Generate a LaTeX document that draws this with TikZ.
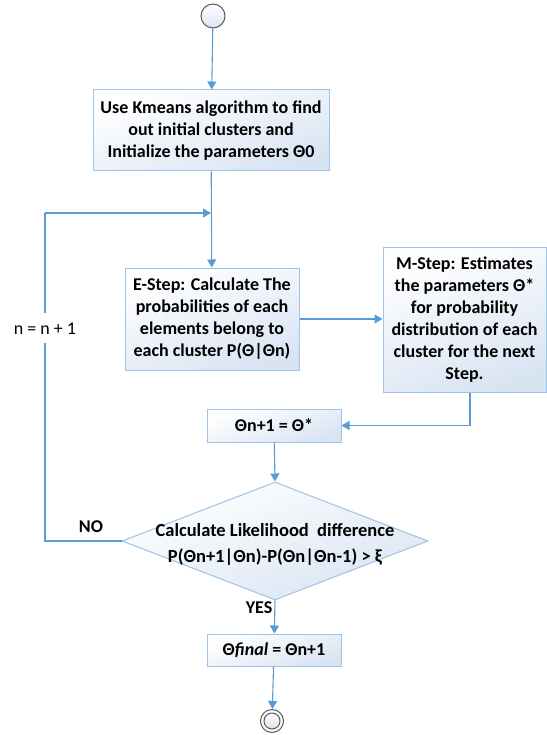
\documentclass[tikz,border=0pt]{standalone}
\usepackage{fontspec}
\setmainfont{Carlito}
\usetikzlibrary{arrows.meta,shapes.geometric}

\definecolor{flow}{HTML}{5B9BD5}
\definecolor{edge}{HTML}{9DC3E6}
\definecolor{tint}{HTML}{D9E4F3}
\definecolor{ring}{HTML}{595959}

\tikzset{
  x=1pt, y=-1pt,
  every node/.style={font=\fontsize{18}{22}\selectfont\bfseries},
  proc/.style={draw=edge, line width=1pt, top color=white, bottom color=tint,
    shading angle=20, inner sep=0pt, align=center, anchor=center},
  flowline/.style={draw=flow, line width=1.1pt},
  arr/.style={flowline, -{Triangle[length=8pt,width=9pt]}},
  lbl/.style={inner sep=1pt}
}

\begin{document}
\begin{tikzpicture}
\useasboundingbox (0,0) rectangle (546,735);

% start and end states
\node[circle, draw=ring, line width=1pt, minimum size=24pt, inner sep=0pt,
  top color=white, bottom color=tint] (start) at (213,16) {};
\node[circle, draw=ring, line width=1pt, minimum size=23pt, inner sep=0pt,
  fill=white] (stop) at (272,721) {};
\node[circle, draw=ring, line width=1pt, minimum size=16pt, inner sep=0pt,
  top color=white, bottom color=tint] at (stop) {};

% process boxes
\node[proc, minimum width=236pt, minimum height=81pt] (init) at (211,130.5)
  {Use Kmeans algorithm to find\\out initial clusters and\\Initialize the parameters Θ0};
\node[proc, minimum width=174pt, minimum height=102pt] (estep) at (212,319)
  {E-Step: Calculate The\\probabilities of each\\elements belong to\\each cluster P(Θ|Θn)};
\node[proc, minimum width=163pt, minimum height=145pt] (mstep) at (464.5,319.5)
  {M-Step: Estimates\\the parameters Θ*\\for probability\\distribution of each\\cluster for the next\\Step.};
\node[proc, minimum width=134pt, minimum height=33pt] (upd) at (274,425.5)
  {Θn+1 = Θ*};
\node[proc, diamond, minimum width=306pt, minimum height=118pt, aspect=2.6] (test) at (275,541)
  {};
\node[align=center, font=\fontsize{18.5}{26}\selectfont\bfseries] (testtext) at (275,544)
  {Calculate Likelihood\ \ difference\\P(Θn+1|Θn)-P(Θn|Θn-1) > ξ};
\node[proc, minimum width=134pt, minimum height=32pt] (final) at (274,650)
  {Θ\textit{final} = Θn+1};

% counter update label on the feedback loop
\node[lbl, font=\fontsize{18}{20}\selectfont] (inc) at (45,329) {n = n + 1};

% helper points on the feedback loop
\coordinate (merge) at (init.south |- 0,213);
\coordinate (loopL) at (45,541);
\coordinate (loopT) at (45,213);
\coordinate (gapT) at (45,313);
\coordinate (gapB) at (45,343);
\coordinate (mdown) at (470,425.5);

% connectors
\draw[arr] (start) -- (init);
\draw[arr] (init) -- (estep);
\draw[arr] (estep.east) -- (mstep.west |- estep.east);
\draw[flowline] (mstep.south -| mdown) -- (mdown);
\draw[arr] (mdown) -- (upd.east);
\draw[arr] (upd) -- (test.north);
\draw[flowline] (test.west) -- (loopL) -- (gapB);
\draw[flowline] (gapT) -- (loopT);
\draw[arr] (loopT) -- (merge);
\draw[arr] (test.south) -- (final);
\draw[arr] (final) -- (stop);

% branch labels
\node (no) at (91,527) {NO};
\node (yes) at (259,608) {YES};
\end{tikzpicture}
\end{document}
